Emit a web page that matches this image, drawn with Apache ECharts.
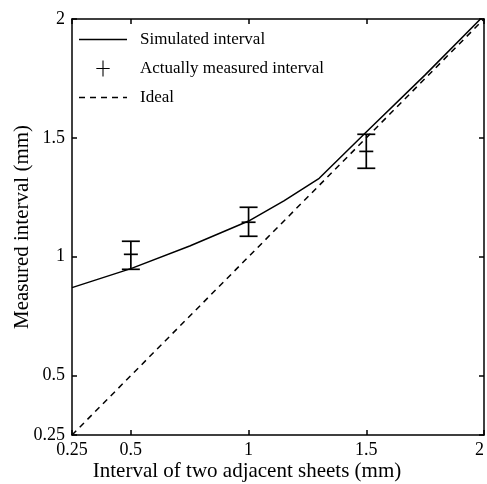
<!DOCTYPE html>
<html>
<head>
<meta charset="utf-8">
<script src="https://cdn.jsdelivr.net/npm/echarts@6/dist/echarts.min.js"></script>
<style>
  html, body { margin: 0; padding: 0; background: #fff; }
  #chart { width: 487px; height: 484px; }
</style>
</head>
<body>
<div id="chart"></div>
<script>
// simulated curve
const simX = [0.25, 0.5, 0.75, 1, 1.15, 1.3, 1.5, 1.75, 2];
const simY = [0.87, 0.95, 1.045, 1.15, 1.235, 1.33, 1.525, 1.765, 2.015];
// measured points (mean with low/high)
const measX = [0.5, 1, 1.5];
const measMean = [1.01, 1.145, 1.443];
const measLow = [0.947, 1.086, 1.372];
const measHigh = [1.065, 1.208, 1.515];
// ideal line
const idealX = [0.25, 2];
const idealY = [0.25, 2];
const ticks = [0.25, 0.5, 1, 1.5, 2];

const font = 'Liberation Serif';
const names = ['Simulated interval', 'Actually measured interval', 'Ideal'];

const chart = echarts.init(document.getElementById('chart'));

const baseAxis = {
  type: 'value', min: 0.25, max: 2,
  axisLine: { show: true, onZero: false, lineStyle: { color: '#000', width: 1.5 } },
  axisTick: { show: true, inside: true, length: 5, customValues: ticks, lineStyle: { color: '#000', width: 1.5 } },
  axisLabel: { customValues: ticks, color: '#000', fontFamily: font, fontSize: 18 },
  splitLine: { show: false }
};

chart.setOption({
  animation: false,
  grid: { left: 72, right: 3, top: 19, bottom: 49, outerBoundsMode: 'none', containLabel: false },
  legend: {
    orient: 'vertical', left: 74, top: 26, itemGap: 12,
    itemWidth: 48, itemHeight: 16,
    textStyle: { fontFamily: font, fontSize: 17, color: '#000', padding: [0, 0, 0, 8] },
    data: [
      { name: names[0], icon: 'path://M0,0H48V1.4H0Z' },
      { name: names[1], icon: 'path://M0,5.6H10V6.4H0Z M4.6,0H5.4V12H4.6Z' },
      { name: names[2], icon: 'path://M0,0H6V1.4H0Z M11,0H17V1.4H11Z M22,0H28V1.4H22Z M33,0H39V1.4H33Z M44,0H48V1.4H44Z' }
    ]
  },
  xAxis: [
    Object.assign({}, baseAxis, {
      name: 'Interval of two adjacent sheets (mm)', nameLocation: 'middle', nameGap: 26,
      nameMoveOverlap: false,
      nameTextStyle: { fontFamily: font, fontSize: 21, color: '#000', padding: [0, 62, 0, 0] },
      axisLabel: Object.assign({}, baseAxis.axisLabel, { margin: 6, alignMaxLabel: 'right' })
    }),
    Object.assign({}, baseAxis, { position: 'top', axisLabel: { show: false } })
  ],
  yAxis: [
    Object.assign({}, baseAxis, {
      name: 'Measured interval (mm)', nameLocation: 'middle', nameGap: 39,
      nameMoveOverlap: false,
      nameTextStyle: { fontFamily: font, fontSize: 21, color: '#000' },
      axisLabel: Object.assign({}, baseAxis.axisLabel, { margin: 7 })
    }),
    Object.assign({}, baseAxis, { position: 'right', axisLabel: { show: false } })
  ],
  series: [
    {
      name: names[0], type: 'line', symbol: 'none',
      data: simX.map((x, i) => [x, simY[i]]),
      lineStyle: { color: '#000', width: 1.5 }, itemStyle: { color: '#000' }
    },
    {
      name: names[1], type: 'custom',
      data: measX.map((x, i) => [x, measLow[i], measHigh[i], measMean[i]]),
      renderItem: function (params, api) {
        const lo = api.coord([api.value(0), api.value(1)]);
        const hi = api.coord([api.value(0), api.value(2)]);
        const mid = api.coord([api.value(0), api.value(3)]);
        const cw = 9, mw = 7;
        const st = { stroke: '#000', lineWidth: 1.7 };
        return {
          type: 'group',
          children: [
            { type: 'line', shape: { x1: lo[0], y1: lo[1], x2: hi[0], y2: hi[1] }, style: st },
            { type: 'line', shape: { x1: lo[0] - cw, y1: lo[1], x2: lo[0] + cw, y2: lo[1] }, style: st },
            { type: 'line', shape: { x1: hi[0] - cw, y1: hi[1], x2: hi[0] + cw, y2: hi[1] }, style: st },
            { type: 'line', shape: { x1: mid[0] - mw, y1: mid[1], x2: mid[0] + mw, y2: mid[1] }, style: st }
          ]
        };
      },
      itemStyle: { color: '#000' }
    },
    {
      name: names[2], type: 'line', symbol: 'none',
      data: idealX.map((x, i) => [x, idealY[i]]),
      lineStyle: { color: '#000', width: 1.5, type: [6, 5] }, itemStyle: { color: '#000' }
    }
  ]
});
</script>
</body>
</html>
